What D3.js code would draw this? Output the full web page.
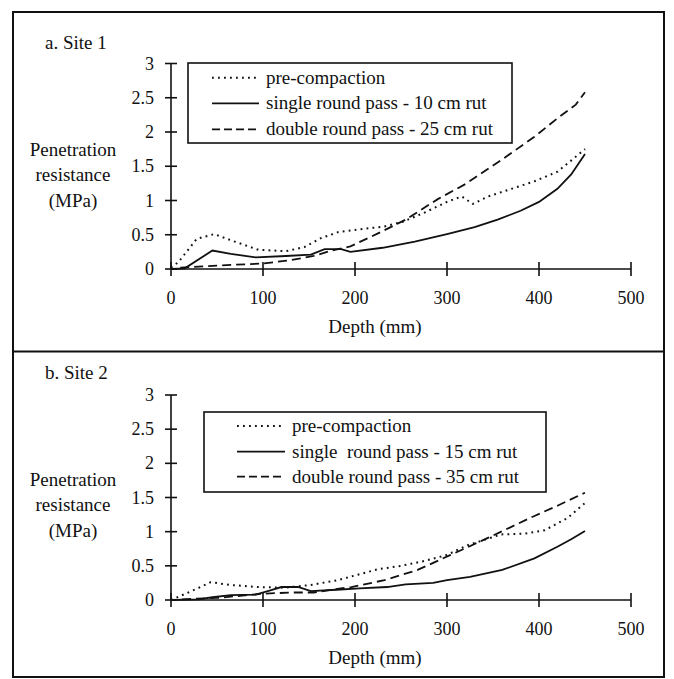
<html>
<head>
<script src="https://d3js.org/d3.v7.min.js"></script>
<style>
  body { margin: 0; background: #fff; }
  text { font-family: "Liberation Serif", "Times New Roman", serif; fill: #111; }
  .tick-label { font-size: 18px; }
  .label { font-size: 19px; }
</style>
</head>
<body>
<div id="chart"></div>
<script>
// Depth (mm) / penetration resistance (MPa) pairs
const xTicks = [0, 100, 200, 300, 400, 500];
const yTicks = [0, 0.5, 1, 1.5, 2, 2.5, 3];
const yTickLabels = ['0', '0.5', '1', '1.5', '2', '2.5', '3'];

const site1Pre = [[0,0.02],[8,0.1],[28,0.44],[47,0.51],[65,0.42],[95,0.28],[125,0.26],[145,0.32],[163,0.45],[182,0.54],[205,0.58],[232,0.62],[252,0.69],[275,0.82],[300,0.98],[316,1.06],[328,0.95],[345,1.06],[370,1.17],[395,1.28],[420,1.42],[450,1.75]];
const site1Single = [[0,0],[15,0.01],[45,0.27],[65,0.22],[92,0.17],[125,0.19],[152,0.21],[167,0.29],[185,0.29],[195,0.25],[230,0.31],[265,0.40],[300,0.51],[330,0.61],[355,0.72],[380,0.85],[400,0.98],[420,1.17],[435,1.38],[450,1.68]];
const site1Double = [[10,0.02],[50,0.05],[100,0.08],[130,0.13],[155,0.19],[175,0.27],[195,0.33],[225,0.52],[255,0.72],[290,1.02],[320,1.24],[360,1.60],[395,1.93],[420,2.20],[440,2.40],[450,2.58]];

const site2Pre = [[0,0],[29,0.17],[43,0.26],[65,0.22],[94,0.19],[123,0.18],[152,0.22],[181,0.29],[203,0.37],[225,0.45],[250,0.50],[275,0.57],[300,0.66],[322,0.80],[359,0.96],[384,0.97],[406,1.02],[431,1.20],[450,1.42]];
const site2Single = [[0,0],[30,0.01],[45,0.04],[65,0.07],[92,0.08],[108,0.14],[120,0.19],[138,0.19],[152,0.13],[180,0.15],[205,0.17],[235,0.19],[255,0.23],[285,0.25],[300,0.29],[325,0.34],[360,0.44],[395,0.61],[420,0.78],[435,0.89],[450,1.01]];
const site2Double = [[12,0.01],[50,0.03],[98,0.09],[130,0.11],[155,0.11],[175,0.15],[196,0.19],[232,0.29],[268,0.44],[304,0.66],[322,0.77],[359,1.00],[395,1.23],[420,1.38],[450,1.57]];

const site1Labels = ['pre-compaction', 'single round pass - 10 cm rut', 'double round pass - 25 cm rut'];
const site2Labels = ['pre-compaction', 'single  round pass - 15 cm rut', 'double round pass - 35 cm rut'];

const styles = [
  { dash: '1.8,4.2', width: 2 },
  { dash: null, width: 1.8 },
  { dash: '9,5', width: 1.8 }
];

const svg = d3.select('#chart').append('svg')
  .attr('width', 674)
  .attr('height', 679);

// outer frame and divider
svg.append('rect')
  .attr('x', 13).attr('y', 12).attr('width', 651).attr('height', 665)
  .attr('fill', 'none').attr('stroke', '#111').attr('stroke-width', 2);
svg.append('line')
  .attr('x1', 13).attr('x2', 664).attr('y1', 351.5).attr('y2', 351.5)
  .attr('stroke', '#111').attr('stroke-width', 2);

const panels = [
  { title: 'a. Site 1', top: 0, y0: 269, y3: 63.5, series: [site1Pre, site1Single, site1Double], labels: site1Labels,
    legend: { x0: 188, x1: 512, y0: 63, y1: 143, rows: [77.7, 103.3, 129.3], s0: 212, s1: 259, tx: 266 } },
  { title: 'b. Site 2', top: 330, y0: 600, y3: 395, series: [site2Pre, site2Single, site2Double], labels: site2Labels,
    legend: { x0: 204, x1: 546, y0: 412, y1: 492, rows: [426, 451.7, 476.7], s0: 237, s1: 285, tx: 292 } }
];

panels.forEach(p => {
  const g = svg.append('g');
  const x = d3.scaleLinear().domain([0, 500]).range([171, 631]);
  const y = d3.scaleLinear().domain([0, 3]).range([p.y0, p.y3]);

  // axes
  g.append('line')
    .attr('x1', x(0)).attr('x2', x(500)).attr('y1', y(0)).attr('y2', y(0))
    .attr('stroke', '#111').attr('stroke-width', 1.6);
  g.append('line')
    .attr('x1', x(0)).attr('x2', x(0)).attr('y1', y(0)).attr('y2', y(3))
    .attr('stroke', '#111').attr('stroke-width', 1.6);

  g.selectAll('.xt').data(xTicks).enter().append('line')
    .attr('x1', d => x(d)).attr('x2', d => x(d))
    .attr('y1', y(0) - 7).attr('y2', y(0) + 7)
    .attr('stroke', '#111').attr('stroke-width', 1.6);
  g.selectAll('.xl').data(xTicks).enter().append('text')
    .attr('class', 'tick-label')
    .attr('x', d => x(d)).attr('y', y(0) + 35)
    .attr('text-anchor', 'middle')
    .text(d => d);

  g.selectAll('.yt').data(yTicks).enter().append('line')
    .attr('x1', x(0) - 6).attr('x2', x(0) + 6)
    .attr('y1', d => y(d)).attr('y2', d => y(d))
    .attr('stroke', '#111').attr('stroke-width', 1.6);
  g.selectAll('.yl').data(yTicks).enter().append('text')
    .attr('class', 'tick-label')
    .attr('x', 154).attr('y', d => y(d) + 6)
    .attr('text-anchor', 'end')
    .text((d, i) => yTickLabels[i]);

  // titles
  g.append('text').attr('class', 'label')
    .attr('x', 45).attr('y', p.top + 49).text(p.title);
  ['Penetration', 'resistance', '(MPa)'].forEach((t, i) => {
    g.append('text').attr('class', 'label')
      .attr('x', 73).attr('y', p.top + 155.5 + i * 25.5)
      .attr('text-anchor', 'middle').text(t);
  });
  g.append('text').attr('class', 'label')
    .attr('x', 375).attr('y', y(0) + 64)
    .attr('text-anchor', 'middle').text('Depth (mm)');

  // data lines
  const line = d3.line().x(d => x(d[0])).y(d => y(d[1]));
  p.series.forEach((s, i) => {
    g.append('path')
      .datum(s)
      .attr('d', line)
      .attr('fill', 'none')
      .attr('stroke', '#111')
      .attr('stroke-width', styles[i].width)
      .attr('stroke-dasharray', styles[i].dash);
  });

  // legend
  const L = p.legend;
  g.append('rect')
    .attr('x', L.x0).attr('y', L.y0)
    .attr('width', L.x1 - L.x0).attr('height', L.y1 - L.y0)
    .attr('fill', '#fff').attr('stroke', '#111').attr('stroke-width', 1.6);
  p.labels.forEach((lab, i) => {
    g.append('line')
      .attr('x1', L.s0).attr('x2', L.s1)
      .attr('y1', L.rows[i]).attr('y2', L.rows[i])
      .attr('stroke', '#111')
      .attr('stroke-width', styles[i].width)
      .attr('stroke-dasharray', i === 2 ? '8,4' : styles[i].dash);
    g.append('text').attr('class', 'label')
      .attr('x', L.tx).attr('y', L.rows[i] + 6)
      .style('white-space', 'pre')
      .text(lab);
  });
});
</script>
</body>
</html>
